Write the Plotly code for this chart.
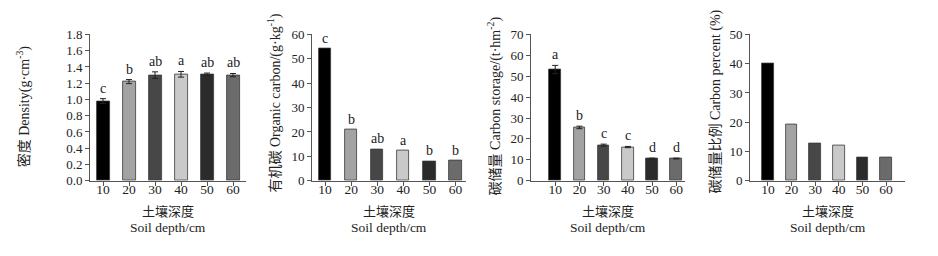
import plotly.graph_objects as go

depths = ["10", "20", "30", "40", "50", "60"]
bar_colors = ["#000000", "#a3a3a3", "#474747", "#c9c9c9", "#2b2b2b", "#6b6b6b"]

density = [0.98, 1.22, 1.30, 1.31, 1.31, 1.30]
density_err = [0.03, 0.025, 0.04, 0.035, 0.015, 0.02]
density_letters = ["c", "b", "ab", "a", "ab", "ab"]

organic = [54.2, 20.9, 13.0, 12.2, 8.0, 8.1]
organic_letters = ["c", "b", "ab", "a", "b", "b"]

storage = [53.2, 25.5, 17.0, 16.1, 10.6, 10.6]
storage_err = [2.0, 0.6, 0.5, 0.3, 0.2, 0.2]
storage_letters = ["a", "b", "c", "c", "d", "d"]

percent = [40.1, 19.2, 12.8, 12.2, 8.0, 8.1]

W, H = 938, 256
SERIF = "Liberation Serif, Times New Roman, serif"
CJK = "Noto Sans CJK SC"

panels = [
    dict(vals=density, err=density_err, letters=density_letters, x0=82, x1=238,
         xr=[-0.5, 5.5], yr=[0, 1.8], dtick=0.2, fmt=".1f", bw=0.5,
         title="<span style='font-family:Noto Sans CJK SC'>密度</span> Density(g·cm<sup>-3</sup>)", tx=15, ty=97),
    dict(vals=organic, err=None, letters=organic_letters, x0=304, x1=458,
         xr=[-0.5, 5.4], yr=[0, 60], dtick=10, fmt="d", bw=0.47,
         title="<span style='font-family:Noto Sans CJK SC'>有机碳</span> Organic carbon/(g·kg<sup>-1</sup>)", tx=266, ty=94),
    dict(vals=storage, err=storage_err, letters=storage_letters, x0=523, x1=677,
         xr=[-1.0, 5.36], yr=[0, 70], dtick=10, fmt="d", bw=0.48,
         title="<span style='font-family:Noto Sans CJK SC'>碳储量</span> Carbon storage/(t·hm<sup>-2</sup>)", tx=486, ty=96),
    dict(vals=percent, err=None, letters=None, x0=742, x1=897,
         xr=[-0.76, 5.8], yr=[0, 50], dtick=10, fmt="d", bw=0.5,
         title="<span style='font-family:Noto Sans CJK SC'>碳储量比例</span> Carbon percent (%)", tx=706, ty=92),
]

ytop, ybot = 20.7, 176.0
fig = go.Figure()
annotations = []
xpos = list(range(len(depths)))

for i, p in enumerate(panels):
    n = "" if i == 0 else str(i + 1)
    xa, ya = "x" + n, "y" + n
    bar = go.Bar(
        x=xpos, y=p["vals"], xaxis=xa, yaxis=ya, width=p["bw"],
        marker=dict(color=bar_colors, line=dict(color="#3a3a3a", width=0.8)),
        showlegend=False,
    )
    if p["err"] is not None:
        bar.error_y = dict(type="data", array=p["err"], visible=True,
                           color="#222222", thickness=1, width=3)
    fig.add_trace(bar)
    lay_x = dict(domain=[p["x0"] / W, p["x1"] / W], range=p["xr"], anchor=ya,
                 tickmode="array", tickvals=xpos, ticktext=depths,
                 showline=True, linecolor="#555555", linewidth=1,
                 ticks="outside", ticklen=4, tickcolor="#555555",
                 ticklabelstandoff=-8,
                 showgrid=False, zeroline=False,
                 tickfont=dict(family=SERIF, size=13.5, color="#222222"))
    lay_y = dict(domain=[1 - ybot / H, 1 - ytop / H], range=p["yr"], anchor=xa,
                 dtick=p["dtick"], tick0=0, tickformat=p["fmt"],
                 showline=True, linecolor="#555555", linewidth=1,
                 ticks="outside", ticklen=4, tickcolor="#555555",
                 showgrid=False, zeroline=False,
                 tickfont=dict(family=SERIF, size=13, color="#222222"))
    fig.layout["xaxis" + n] = lay_x
    fig.layout["yaxis" + n] = lay_y

    if p["letters"] is not None:
        for j, lt in enumerate(p["letters"]):
            top = p["vals"][j] + (p["err"][j] if p["err"] is not None else 0)
            annotations.append(dict(x=xpos[j], y=top, xref=xa, yref=ya, text=lt,
                                    showarrow=False, yanchor="bottom", xanchor="center", yshift=1,
                                    font=dict(family=SERIF, size=14, color="#222222")))

    cx = (p["x0"] + p["x1"]) / 2 / W
    annotations.append(dict(x=cx, y=1 - 207.5 / H, xref="paper", yref="paper", text="土壤深度",
                            xanchor="center", yanchor="middle",
                            showarrow=False, font=dict(family=CJK, size=13, color="#222222")))
    annotations.append(dict(x=cx, y=1 - 226 / H, xref="paper", yref="paper", text="Soil depth/cm",
                            xanchor="center", yanchor="middle",
                            showarrow=False, font=dict(family=SERIF, size=13.5, color="#222222")))
    annotations.append(dict(x=p["tx"] / W, y=1 - p["ty"] / H, xref="paper", yref="paper",
                            text=p["title"], textangle=-90, showarrow=False,
                            xanchor="center", yanchor="middle",
                            font=dict(family=SERIF, size=14, color="#222222")))

fig.update_layout(width=W, height=H, margin=dict(l=0, r=0, t=0, b=0),
                  paper_bgcolor="white", plot_bgcolor="white",
                  annotations=annotations, bargap=0)
fig.write_html("out.html")
